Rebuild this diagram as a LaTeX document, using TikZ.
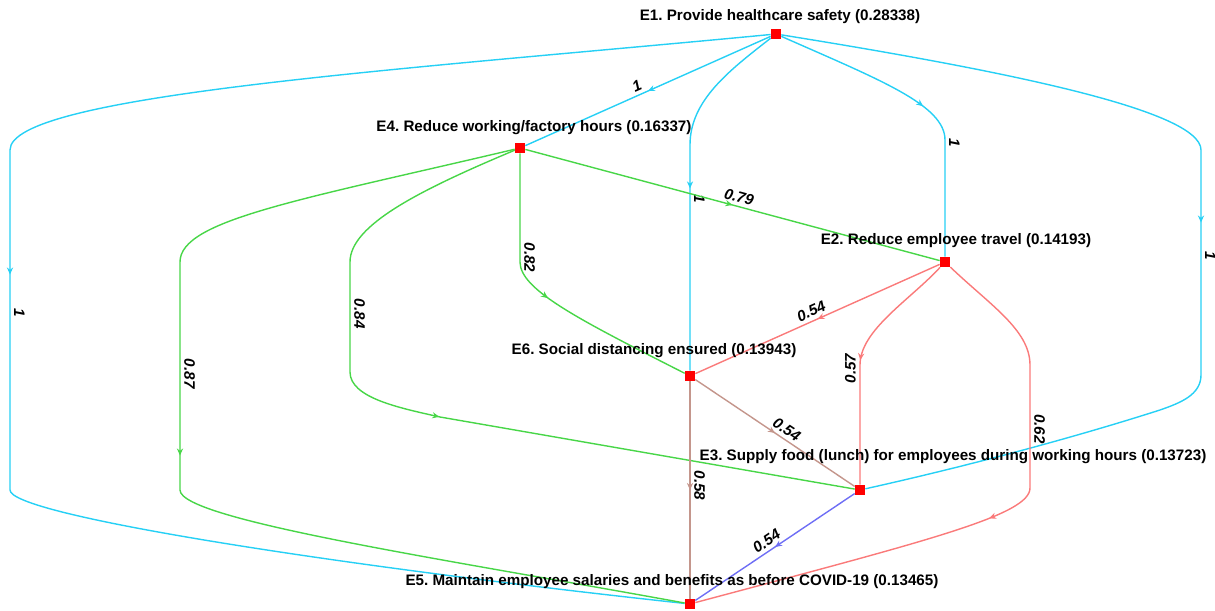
\documentclass[tikz,border=0pt]{standalone}
\usepackage{fontspec}
\setmainfont{Liberation Sans}
\frenchspacing
\usetikzlibrary{arrows.meta, decorations.markings}
\definecolor{cyanlink}{RGB}{38,208,245}
\definecolor{greenlink}{RGB}{72,214,72}
\definecolor{redlink}{RGB}{250,122,122}
\definecolor{brownlink}{RGB}{196,150,140}
\definecolor{bluelink}{RGB}{110,110,245}

\tikzset{
  factor/.style={rectangle, fill=red, minimum size=0.2cm, inner sep=0pt},
  factortext/.style={font=\fontsize{8.65}{10}\selectfont\bfseries, inner sep=0pt},
  link/.style={line width=0.8pt, postaction={decorate},
    decoration={markings, mark=at position 0.5 with {\arrow{Stealth[length=4pt, width=3.5pt]}}}},
  wt/.style={font=\fontsize{8.65}{10}\selectfont\bfseries\itshape, text=black, inner sep=2pt},
  wts/.style={wt, sloped, above}
}

\begin{document}
\begin{tikzpicture}[x=0.02cm, y=-0.02cm]
    \useasboundingbox (0,0) rectangle (1215,611);
    \foreach \n/\x/\y in {E1/776/34, E2/945/262, E3/860/490, E4/520/148, E5/690/604, E6/690/376}
        \node[factor] (\n) at (\x,\y) {};

    \draw[link, cyanlink] (E1) -- node[wts, pos=0.53] {1} (E4);
    \draw[link, cyanlink] (E1) .. controls (730,70) and (690,100) .. (690,145) -- node[wts, pos=0.24] {1} (E6);
    \draw[link, cyanlink] (E1) .. controls (880,80) and (945,105) .. (945,140) -- node[wts, pos=0.02] {1} (E2);
    \draw[link, cyanlink] (E1) .. controls (400,70) and (10,95) .. (10,150) -- node[wts, pos=0.48] {1} (10,490)
        .. controls (10,515) and (330,565) .. (E5);
    \draw[link, cyanlink] (E1) .. controls (1000,70) and (1201,110) .. (1201,150) -- node[wts, pos=0.47] {1} (1201,375)
        .. controls (1201,395) and (1180,403) .. (1160,410) .. controls (1060,442) and (950,470) .. (E3);

    \draw[link, greenlink] (E4) -- node[wts, pos=0.51] {0.79} (E2);
    \draw[link, greenlink] (E4) -- node[wts, pos=0.96] {0.82} (520,262) .. controls (520,290) and (580,320) .. (E6);
    \draw[link, greenlink] (E4) .. controls (420,190) and (350,225) .. (350,262) -- node[wts, pos=0.47] {0.84} (350,372)
        .. controls (350,398) and (400,408) .. (440,417) -- (E3);
    \draw[link, greenlink] (E4) .. controls (300,200) and (180,220) .. (180,262) -- node[wts, pos=0.49] {0.87} (180,490)
        .. controls (180,520) and (450,560) .. (E5);

    \draw[link, redlink] (E2) -- node[wts, pos=0.51] {0.54} (E6);
    \draw[link, redlink] (E2) .. controls (910,300) and (860,330) .. (860,365) -- node[wt, rotate=90, anchor=south, pos=0.03] {0.57} (E3);
    \draw[link, redlink] (E2) .. controls (990,305) and (1030,330) .. (1030,365) -- node[wts, pos=0.52] {0.62} (1030,488)
        .. controls (1030,515) and (930,540) .. (E5);

    \draw[link, brownlink] (E6) -- node[wts, pos=0.54] {0.54} (E3);
    \draw[link, brownlink] (E6) -- node[wts, pos=0.48] {0.58} (E5);
    \draw[link, bluelink] (E3) -- node[wts, pos=0.52] {0.54} (E5);

    \foreach \n/\x/\y/\txt in {
        E1/780/17/{E1. Provide healthcare safety (0.28338)},
        E4/534/128/{E4. Reduce working/factory hours (0.16337)},
        E2/956/241/{E2. Reduce employee travel (0.14193)},
        E6/654/351/{E6. Social distancing ensured (0.13943)},
        E3/953/457/{E3. Supply food (lunch) for employees during working hours (0.13723)},
        E5/672/582/{E5. Maintain employee salaries and benefits as before COVID-19 (0.13465)}}
        \node[factortext] (\n-text) at (\x,\y) {\txt};
\end{tikzpicture}
\end{document}
